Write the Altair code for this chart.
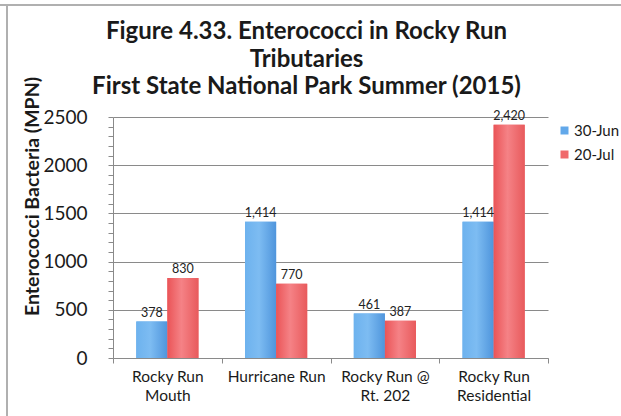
import altair as alt
import pandas as pd

# Sampling sites (line breaks mark where the axis label wraps)
sites = ["Rocky Run\nMouth", "Hurricane Run", "Rocky Run @\nRt. 202", "Rocky Run\nResidential"]
dates = ["30-Jun", "20-Jul"]
jun30 = [378, 1414, 461, 1414]
jul20 = [830, 770, 387, 2420]

rows = []
for s, a, b in zip(sites, jun30, jul20):
    rows.append({"site": s, "date": dates[0], "mpn": a})
    rows.append({"site": s, "date": dates[1], "mpn": b})
df = pd.DataFrame(rows)

FONT = "Lato"
TXT = "#1a1a1a"
GRID = "#8a8a8a"
PLOT_W, PLOT_H = 435, 241
PAD = {"left": 113, "top": 117, "right": 621 - 113 - PLOT_W, "bottom": 416 - 117 - PLOT_H}

x_enc = alt.X(
    "site:N", sort=sites, title=None,
    scale=alt.Scale(paddingInner=0, paddingOuter=0),
    axis=alt.Axis(
        labelAngle=0, labelExpr="split(datum.label, '\\n')", labelFont=FONT,
        labelFontSize=15.5, labelColor=TXT, labelLineHeight=19, labelPadding=6,
        tickBand="extent", tickSize=5, tickColor=GRID, domainColor=GRID,
        labelBaseline="top", grid=False,
    ),
)
xo_enc = alt.XOffset(
    "date:N", sort=dates,
    scale=alt.Scale(domain=dates, paddingInner=0, paddingOuter=0.75),
)
y_enc = alt.Y(
    "mpn:Q", title="Enterococci Bacteria (MPN)",
    scale=alt.Scale(domain=[0, 2500], nice=False),
    axis=alt.Axis(
        values=list(range(0, 2501, 100)), format="d",
        labelExpr="datum.value % 500 == 0 ? datum.label : ''",
        labelFont=FONT, labelFontSize=19, labelColor=TXT, labelPadding=21,
        tickSize=5, tickColor=GRID, domainColor=GRID,
        gridColor=GRID,
        gridOpacity={"condition": {"test": "datum.value % 500 == 0", "value": 1}, "value": 0},
        titleFont=FONT, titleFontSize=19.5, titleFontWeight="bold", titleColor=TXT,
        titleX=-81, titleY=79, titleBaseline="middle", titleAngle=270,
    ),
)

base = alt.Chart(df)

bars = base.mark_bar().encode(
    x=x_enc, xOffset=xo_enc, y=y_enc,
    color=alt.Color(
        "date:N", sort=dates,
        scale=alt.Scale(domain=dates, range=["#62a8ea", "#f06a6c"]),
        legend=alt.Legend(
            title=None, orient="none", legendX=444, legendY=6,
            symbolType="square", symbolSize=64, symbolStrokeWidth=0,
            labelFont=FONT, labelFontSize=15, labelColor=TXT, rowPadding=8,
            labelOffset=2,
        ),
    ),
)

blue_grad = alt.Gradient(
    gradient="linear", x1=0, x2=1, y1=0, y2=0,
    stops=[alt.GradientStop(color="#6db2ee", offset=0),
           alt.GradientStop(color="#7dbcf2", offset=0.45),
           alt.GradientStop(color="#4f95dc", offset=1)],
)
red_grad = alt.Gradient(
    gradient="linear", x1=0, x2=1, y1=0, y2=0,
    stops=[alt.GradientStop(color="#ea5457", offset=0),
           alt.GradientStop(color="#f58286", offset=0.45),
           alt.GradientStop(color="#e85a5c", offset=1)],
)
blue_bars = base.transform_filter(alt.datum.date == dates[0]).mark_bar(color=blue_grad).encode(
    x=x_enc, xOffset=xo_enc, y=y_enc)
red_bars = base.transform_filter(alt.datum.date == dates[1]).mark_bar(color=red_grad).encode(
    x=x_enc, xOffset=xo_enc, y=y_enc)

labels = base.mark_text(
    font=FONT, fontSize=12.5, color="#222222", baseline="alphabetic", dy=-5,
).encode(
    x=x_enc, xOffset=xo_enc, y=y_enc,
    text=alt.Text("mpn:Q", format=","),
)

# Thin frame lines along the top and left edges of the page
frame_df = pd.DataFrame({"k": [0]})
frame_top = alt.Chart(frame_df).mark_rule(color="#b0b0b0", strokeWidth=2).encode(
    x=alt.value(-PAD["left"]), x2=alt.value(PLOT_W + PAD["right"]), y=alt.value(5 - PAD["top"]))
frame_left = alt.Chart(frame_df).mark_rule(color="#b0b0b0", strokeWidth=2).encode(
    x=alt.value(7 - PAD["left"]), y=alt.value(5 - PAD["top"]), y2=alt.value(PLOT_H + PAD["bottom"]))

chart = alt.layer(bars, blue_bars, red_bars, labels, frame_top, frame_left).properties(
    width=PLOT_W, height=PLOT_H,
    title=alt.TitleParams(
        text=["Figure 4.33. Enterococci in Rocky Run", "Tributaries",
              "First State National Park Summer (2015)"],
        font=FONT, fontSize=24, fontWeight="bold", color=TXT, lineHeight=27.5,
        anchor="middle", dx=-24, offset=0, dy=95,
    ),
    autosize="none", padding=PAD, background="white",
).configure_view(stroke=None)

chart.save("out.html", embed_options={"renderer": "svg", "actions": False})
